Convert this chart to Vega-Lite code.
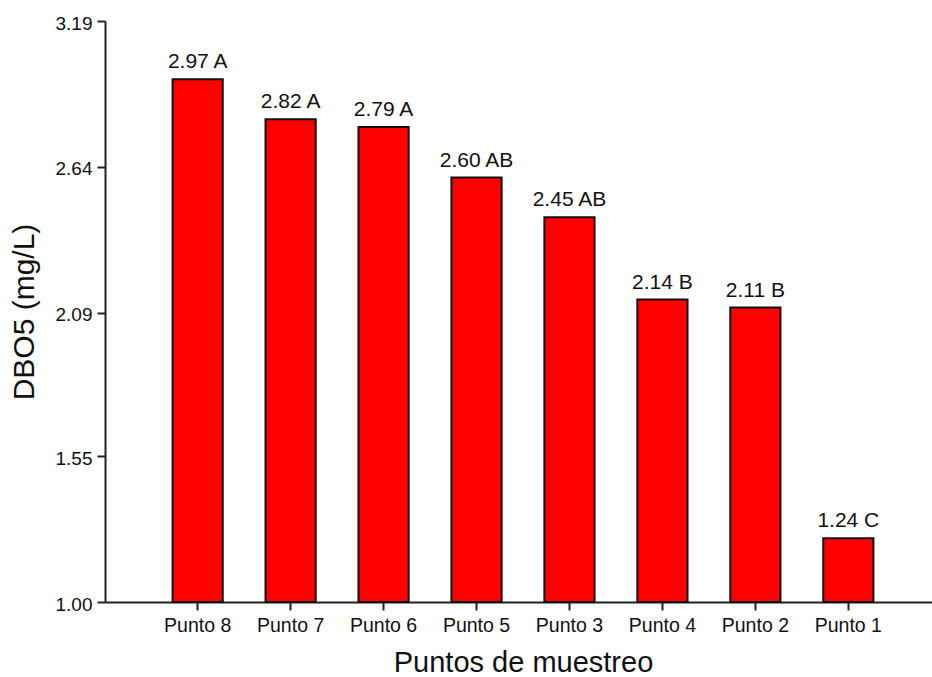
{
  "$schema": "https://vega.github.io/schema/vega-lite/v6.json",
  "width": 827,
  "height": 581,
  "autosize": {"type": "none"},
  "padding": {"left": 105, "top": 21, "right": 0, "bottom": 75},
  "background": "white",
  "config": {
    "view": {"stroke": null},
    "font": "Liberation Sans"
  },
  "data": {
    "values": [
      {"punto": "Punto 8", "dbo5": 2.97, "grupo": "A"},
      {"punto": "Punto 7", "dbo5": 2.82, "grupo": "A"},
      {"punto": "Punto 6", "dbo5": 2.79, "grupo": "A"},
      {"punto": "Punto 5", "dbo5": 2.60, "grupo": "AB"},
      {"punto": "Punto 3", "dbo5": 2.45, "grupo": "AB"},
      {"punto": "Punto 4", "dbo5": 2.14, "grupo": "B"},
      {"punto": "Punto 2", "dbo5": 2.11, "grupo": "B"},
      {"punto": "Punto 1", "dbo5": 1.24, "grupo": "C"}
    ]
  },
  "transform": [
    {"calculate": "format(datum.dbo5, '.2f') + ' ' + datum.grupo", "as": "etiqueta"}
  ],
  "encoding": {
    "x": {
      "field": "punto",
      "type": "nominal",
      "sort": null,
      "scale": {"paddingInner": 0.46, "paddingOuter": 0.727, "range": [0, 836]},
      "axis": {
        "title": "Puntos de muestreo",
        "titleFontSize": 29,
        "titleFontWeight": "normal",
        "titleColor": "#111",
        "titlePadding": 14,
        "labelAngle": 0,
        "labelFontSize": 19.5,
        "labelColor": "#111",
        "labelPadding": 6,
        "tickSize": 8,
        "tickWidth": 2,
        "tickColor": "#222",
        "domainColor": "#222",
        "domainWidth": 2,
        "grid": false
      }
    },
    "y": {
      "field": "dbo5",
      "type": "quantitative",
      "scale": {"domain": [1.0, 3.19], "nice": false, "zero": false},
      "axis": {
        "title": "DBO5 (mg/L)",
        "titleFontSize": 30,
        "titleFontWeight": "normal",
        "titleColor": "#111",
        "titlePadding": 16,
        "values": [1.0, 1.55, 2.09, 2.64, 3.19],
        "format": ".2f",
        "labelFontSize": 19,
        "labelColor": "#111",
        "labelPadding": 5,
        "labelOffset": 2,
        "tickSize": 8,
        "tickWidth": 2,
        "tickColor": "#222",
        "domainColor": "#222",
        "domainWidth": 2,
        "grid": false
      }
    }
  },
  "layer": [
    {
      "mark": {"type": "bar", "fill": "#ff0000", "stroke": "#111", "strokeWidth": 2},
      "encoding": {
        "y2": {"datum": 1.0}
      }
    },
    {
      "mark": {"type": "text", "baseline": "alphabetic", "dy": -11, "fontSize": 21, "color": "#111"},
      "encoding": {
        "text": {"field": "etiqueta"}
      }
    }
  ]
}
